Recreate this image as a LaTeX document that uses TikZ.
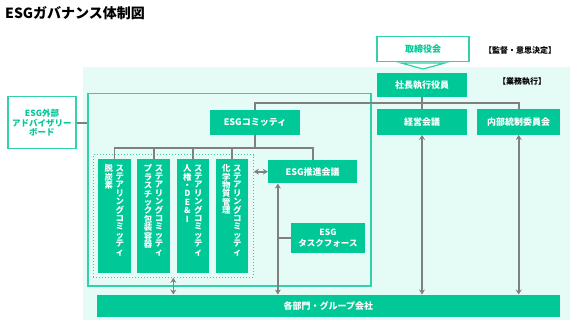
\documentclass[tikz,border=0pt]{standalone}
\usepackage{fontspec}
\setmainfont{Noto Sans CJK JP}
\usetikzlibrary{arrows.meta,calc,positioning}
\definecolor{esggreen}{HTML}{00C896}
\definecolor{esgline}{HTML}{33D1A7}
\definecolor{esgbg}{HTML}{E5FCF6}
\definecolor{connect}{HTML}{808080}
\tikzset{
 gbox/.style={fill=esggreen,text=white,font=\bfseries\fontsize{9}{11}\selectfont,inner sep=0pt,align=center},
 wbox/.style={draw=esgline,line width=1.4pt,fill=white,text=esggreen,font=\bfseries\fontsize{9}{11}\selectfont,inner sep=0pt,align=center},
 conn/.style={draw=connect,line width=1.6pt},
 biarrow/.style={conn,{Stealth[length=5pt,width=6pt]}-{Stealth[length=5pt,width=6pt]}},
 tatecol/.style={text=white,font=\bfseries\fontsize{8.4}{8.4}\selectfont,align=center,inner sep=0pt,anchor=north},
 notelabel/.style={font=\bfseries\fontsize{8}{10}\selectfont,inner sep=0pt},
}
\begin{document}
\begin{tikzpicture}[x=1pt,y=-1pt]
 \useasboundingbox[fill=white](0,0)rectangle(576,324);
 \node[anchor=west,font=\bfseries\fontsize{14}{16}\selectfont,inner sep=0pt](title)at(5,13){ESGガバナンス体制図};
 % background area of execution
 \fill[esgbg](83,67)rectangle(570,320);
 \node[wbox,minimum width=92,minimum height=25](board)at(423,48.7){取締役会};
 \filldraw[draw=esgline,fill=white,line width=1.2pt](401,63)--(445,63)--(423,69)--cycle;
 \node[notelabel,anchor=west](supervise)at(484,50){【監督・意思決定】};
 \node[notelabel,anchor=west](execute)at(498,82){【業務執行】};
 \node[gbox,minimum width=90.6,minimum height=24](ceo)at(422,84.7){社長執行役員};
 \node[gbox,minimum width=90.6,minimum height=25.4](mgmt)at(422,122){経営会議};
 \node[gbox,minimum width=82.7,minimum height=25.4](control)at(518.7,122){内部統制委員会};
 % ESG frame and its members
 \node[draw=esgline,line width=1.4pt,minimum width=283,minimum height=192.7,inner sep=0pt](esgframe)at(229.5,189.7){};
 \node[wbox,minimum width=68,minimum height=52,font=\bfseries\fontsize{8.5}{9.5}\selectfont](advisory)at(42,122.7){ESG外部\\アドバイザリー\\ボード};
 \node[gbox,minimum width=90,minimum height=24.7](esgcom)at(255,122.3){ESGコミッティ};
 \node[draw=esgline,dotted,line width=1pt,minimum width=160,minimum height=122.6,inner sep=0pt](scgroup)at(173.3,216){};
 \foreach \i/\cx/\sub in {1/114.3/{脱\\炭\\素},2/153.7/{プ\\ラ\\ス\\チ\\ッ\\ク\\包\\装\\容\\器},3/193/{人\\権\\・\\D\\E\\\&\\I},4/232/{化\\学\\物\\質\\管\\理}}{
  \node[gbox,minimum width=32.7,minimum height=113.4](sc\i)at(\cx,216){};
  \node[tatecol](scname\i)at(\cx+5.4,164.5){ス\\テ\\ア\\リ\\ン\\グ\\コ\\ミ\\ッ\\テ\\ィ};
  \node[tatecol](scsub\i)at(\cx-5.6,164.5){\sub};
 }
 \node[gbox,minimum width=89.3,minimum height=23.3](promo)at(312.7,171.7){ESG推進会議};
 \node[gbox,minimum width=74.6,minimum height=30.6,font=\bfseries\fontsize{8.5}{11}\selectfont](taskforce)at(328,238){ESG\\タスクフォース};
 \node[gbox,minimum width=463.3,minimum height=22.6](divisions)at(328.3,306){各部門・グループ会社};
 % connectors
 \coordinate(bus)at($(ceo.south)!.5!(mgmt.north)$);
 \draw[conn](ceo.south)--(mgmt.north);
 \draw[conn](esgcom.north)|-(bus)-|(control.north);
 \draw[conn](advisory.east)--(advisory.east-|esgframe.west);
 \coordinate(tree)at($(esgcom.south)+(0,13)$);
 \foreach \n in {sc1,sc2,sc3,sc4,promo}{\draw[conn](esgcom.south)--(tree)-|(\n.north);}
 \draw[biarrow](scgroup.east|-promo.west)--(promo.west);
 \draw[biarrow](scgroup.south)--(scgroup.south|-divisions.north);
 \coordinate(promoleg)at($(promo.south west)+(10,0)$);
 \draw[biarrow](promoleg)--(promoleg|-divisions.north);
 \draw[conn](promoleg|-taskforce.west)--(taskforce.west);
 \draw[biarrow](mgmt.south)--(mgmt.south|-divisions.north);
 \draw[biarrow](control.south)--(control.south|-divisions.north);
\end{tikzpicture}
\end{document}
